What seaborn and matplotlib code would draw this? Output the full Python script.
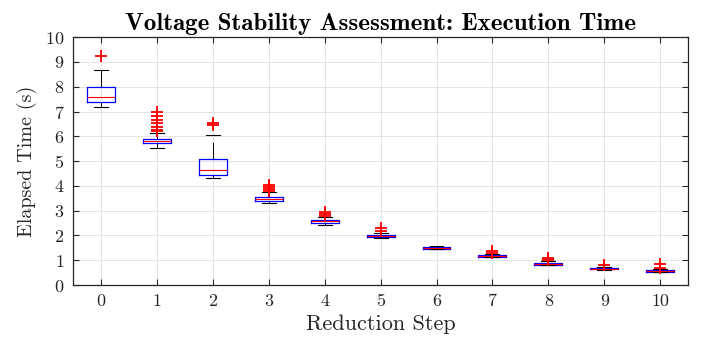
import numpy as np
import pandas as pd
import matplotlib
matplotlib.use("Agg")
import matplotlib.pyplot as plt
import seaborn as sns

# ---- data (summary statistics per reduction step) ----
steps = ["0", "1", "2", "3", "4", "5", "6", "7", "8", "9", "10"]
whislo = [7.20, 5.51, 4.33, 3.29, 2.43, 1.88, 1.44, 1.12, 0.80, 0.61, 0.51]
q1 = [7.40, 5.71, 4.43, 3.38, 2.52, 1.93, 1.47, 1.15, 0.82, 0.64, 0.54]
median = [7.58, 5.79, 4.62, 3.46, 2.57, 1.97, 1.50, 1.18, 0.85, 0.66, 0.56]
q3 = [8.00, 5.88, 5.10, 3.54, 2.62, 2.02, 1.54, 1.21, 0.89, 0.69, 0.59]
whishi = [8.66, 6.12, 6.05, 3.74, 2.75, 2.10, 1.59, 1.27, 0.95, 0.74, 0.64]
outliers = [
    [9.22],
    [6.21, 6.25, 6.36, 6.52, 6.65, 6.81, 6.99],
    [6.45, 6.52],
    [3.81, 3.88, 3.96, 4.05],
    [2.80, 2.86, 2.93],
    [2.18, 2.28],
    [],
    [1.31, 1.37],
    [1.00, 1.04, 1.09],
    [0.79],
    [0.69, 0.85],
]

# Build long-form samples whose quartiles/whiskers reproduce the statistics above
rows = []
for i, s in enumerate(steps):
    k = len(outliers[i])
    a, b = 2 * k + 3, k + 3
    sample = [whislo[i]] + [q1[i]] * a + [median[i]] + [q3[i]] * b + [whishi[i]] + outliers[i]
    rows += [(s, v) for v in sample]
df = pd.DataFrame(rows, columns=["step", "time"])

plt.rcParams["font.family"] = "cmr10"
plt.rcParams["mathtext.fontset"] = "cm"
plt.rcParams["axes.formatter.use_mathtext"] = True
plt.rcParams["lines.scale_dashes"] = False

fig = plt.figure(figsize=(7.06, 3.44), dpi=100)
ax = fig.add_axes([0.103, 0.1715, 0.872, 0.7205])

sns.boxplot(
    data=df, x="step", y="time", order=steps, ax=ax,
    width=0.5, fill=False, whis=1.5, linecolor="#0000ff", color="#0000ff",
    boxprops=dict(color="#0000ff", linewidth=0.9),
    medianprops=dict(color="#ff0000", linewidth=0.8),
    whiskerprops=dict(color="black", linewidth=0.7, linestyle=(0, (12, 5))),
    capprops=dict(color="black", linewidth=0.8),
    flierprops=dict(marker="+", markeredgecolor="#ff0000", markersize=8, markeredgewidth=1.3),
)

ax.set_ylim(0, 10)
ax.set_xlim(-0.5, 10.5)
ax.set_yticks(range(0, 11))
ax.grid(True, color="#e3e3e3", linewidth=0.7)
ax.set_axisbelow(True)
for sp in ax.spines.values():
    sp.set_color("#262626")
    sp.set_linewidth(0.9)
ax.tick_params(direction="in", top=True, right=True, length=4, width=0.8,
               color="#262626", labelsize=13, labelcolor="#262626", pad=6)
ax.set_xlabel("Reduction Step", fontsize=16, color="#262626", labelpad=4)
ax.set_ylabel("Elapsed Time (s)", fontsize=14.5, color="#262626", labelpad=6)
ax.set_title("Voltage Stability Assessment: Execution Time", fontsize=18,
             fontfamily="cmb10", color="black", pad=5)

fig.savefig("out.png", dpi=100)
